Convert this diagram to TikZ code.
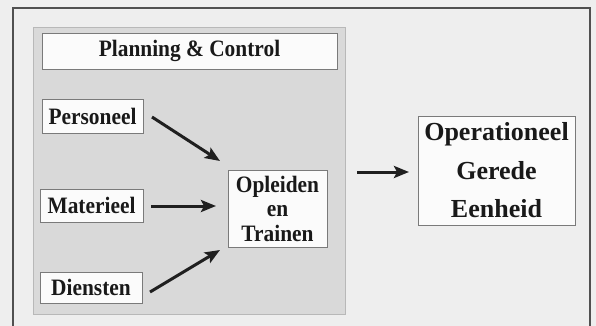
\documentclass[tikz,border=0pt]{standalone}
\usepackage{fontspec}
\setmainfont{Liberation Serif}
\newfontfamily\condfont[FakeStretch=0.91]{Liberation Serif}
\usetikzlibrary{arrows.meta}
\definecolor{bgc}{HTML}{EEEEEE}
\definecolor{panelc}{HTML}{D9D9D9}
\definecolor{framec}{HTML}{505050}
\definecolor{boxline}{HTML}{7A7A7A}
\definecolor{boxfill}{HTML}{FBFBFB}
\tikzset{
  lbox/.style={draw=boxline, line width=0.8pt, fill=boxfill, inner sep=0pt,
    font=\condfont\fontsize{23.5}{24.5}\selectfont\bfseries, text=black!90},
  bigbox/.style={draw=boxline, line width=0.8pt, fill=boxfill, inner sep=0pt,
    font=\fontsize{26}{38.5}\selectfont\bfseries, text=black!90, align=center},
  arr/.style={line width=3pt, draw=black!88,
    -{Stealth[length=15pt,width=12pt,inset=3pt]}},
}
\begin{document}
\begin{tikzpicture}[x=1pt,y=-1pt]
\useasboundingbox (0,0) rectangle (596,326);
\clip (0,0) rectangle (596,326);
\fill[bgc] (0,0) rectangle (596,326);
% outer frame
\draw[framec, line width=2pt] (13,340) -- (13,8.5) -- (590,8.5) -- (590,340);
% gray panel
\draw[panelc!85!black, line width=0.8pt, fill=panelc] (33,27) rectangle (345,314);
% nodes
\node[lbox, minimum width=295pt, minimum height=36pt] (plan) at (189.5,51) {Planning \& Control};
\node[lbox, minimum width=101pt, minimum height=34pt] (pers) at (92.5,116) {Personeel};
\node[lbox, minimum width=103pt, minimum height=33pt] (mat) at (91.5,205.5) {Materieel};
\node[lbox, minimum width=102pt, minimum height=31pt] (dien) at (91,287.5) {Diensten};
\node[lbox, minimum width=99pt, minimum height=77pt, align=center] (opl) at (277.5,208.5) {Opleiden\\en\\Trainen};
\node[bigbox, minimum width=157pt, minimum height=109pt] (oge) at (496.5,170.5) {Operationeel\\Gerede\\Eenheid};
% connector end points
\coordinate (p1) at (152,117);
\coordinate (p2) at (220,161);
\coordinate (m1) at (151,206);
\coordinate (m2) at (216,206);
\coordinate (d1) at (150,292);
\coordinate (d2) at (220,250);
\coordinate (o1) at (357,172);
\coordinate (o2) at (409,172);
\draw[arr] (p1) -- (p2);
\draw[arr] (m1) -- (m2);
\draw[arr] (d1) -- (d2);
\draw[arr] (o1) -- (o2);
\end{tikzpicture}
\end{document}
